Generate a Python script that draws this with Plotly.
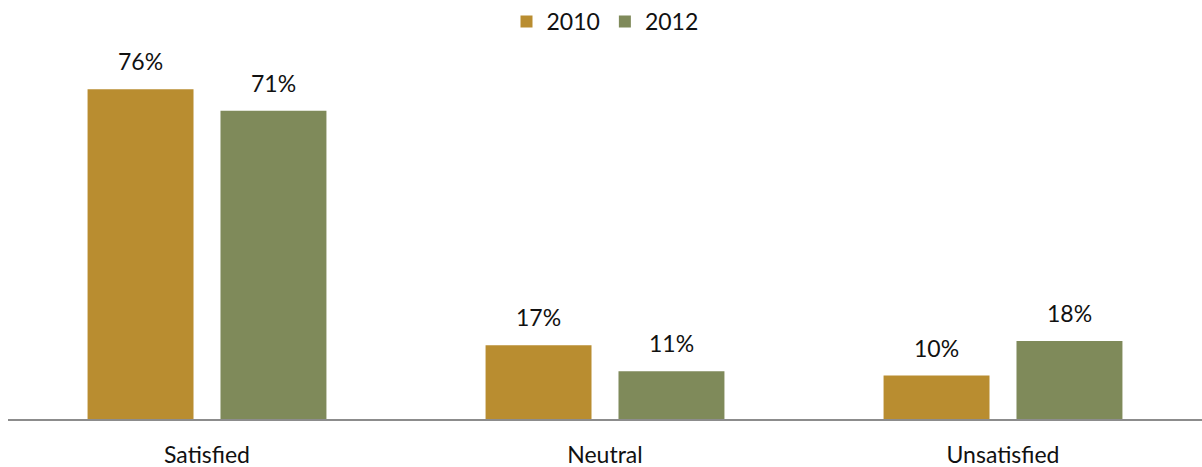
import plotly.graph_objects as go

categories = ["Satisfied", "Neutral", "Unsatisfied"]
years = ["2010", "2012"]
values_2010 = [76, 17, 10]
values_2012 = [71, 11, 18]
colors = {"2010": "#B98D30", "2012": "#7F8A5A"}

font_family = "Lato, 'Open Sans', sans-serif"
label_size = 23

fig = go.Figure()
series = list(zip(years, [values_2010, values_2012]))
for year, vals in series:
    fig.add_trace(go.Bar(
        name=year,
        x=categories,
        y=vals,
        marker=dict(color=colors[year], line=dict(width=0)),
    ))

# value labels above each bar (offset half a bar slot left/right of the category)
slot_px = 133
for i, (year, vals) in enumerate(series):
    shift = (i - 0.5) * slot_px
    for cat, v in zip(categories, vals):
        fig.add_annotation(
            x=cat, y=v, text=f"{v}%",
            xshift=shift, yshift=12,
            yanchor="bottom", showarrow=False,
            font=dict(size=label_size, color="#111111", family=font_family),
        )

fig.update_layout(
    width=1202,
    height=467,
    margin=dict(l=8, r=0, t=40, b=48, autoexpand=False),
    paper_bgcolor="white",
    plot_bgcolor="white",
    barmode="group",
    bargap=0.332,
    bargroupgap=0.203,
    font=dict(family=font_family, size=label_size, color="#111111"),
    showlegend=True,
    legend=dict(
        orientation="h",
        x=0.5, xanchor="center",
        y=1.0, yanchor="top",
        yref="container",
        font=dict(size=label_size),
        itemwidth=30,
        traceorder="normal",
    ),
    xaxis=dict(
        showline=True,
        linecolor="#8C8C8C",
        linewidth=2,
        ticks="outside",
        ticklen=14,
        tickcolor="rgba(0,0,0,0)",
        tickfont=dict(size=label_size),
        showgrid=False,
    ),
    yaxis=dict(
        range=[0, 87.33],
        visible=False,
        showgrid=False,
        zeroline=False,
    ),
)

fig.write_html("out.html")
